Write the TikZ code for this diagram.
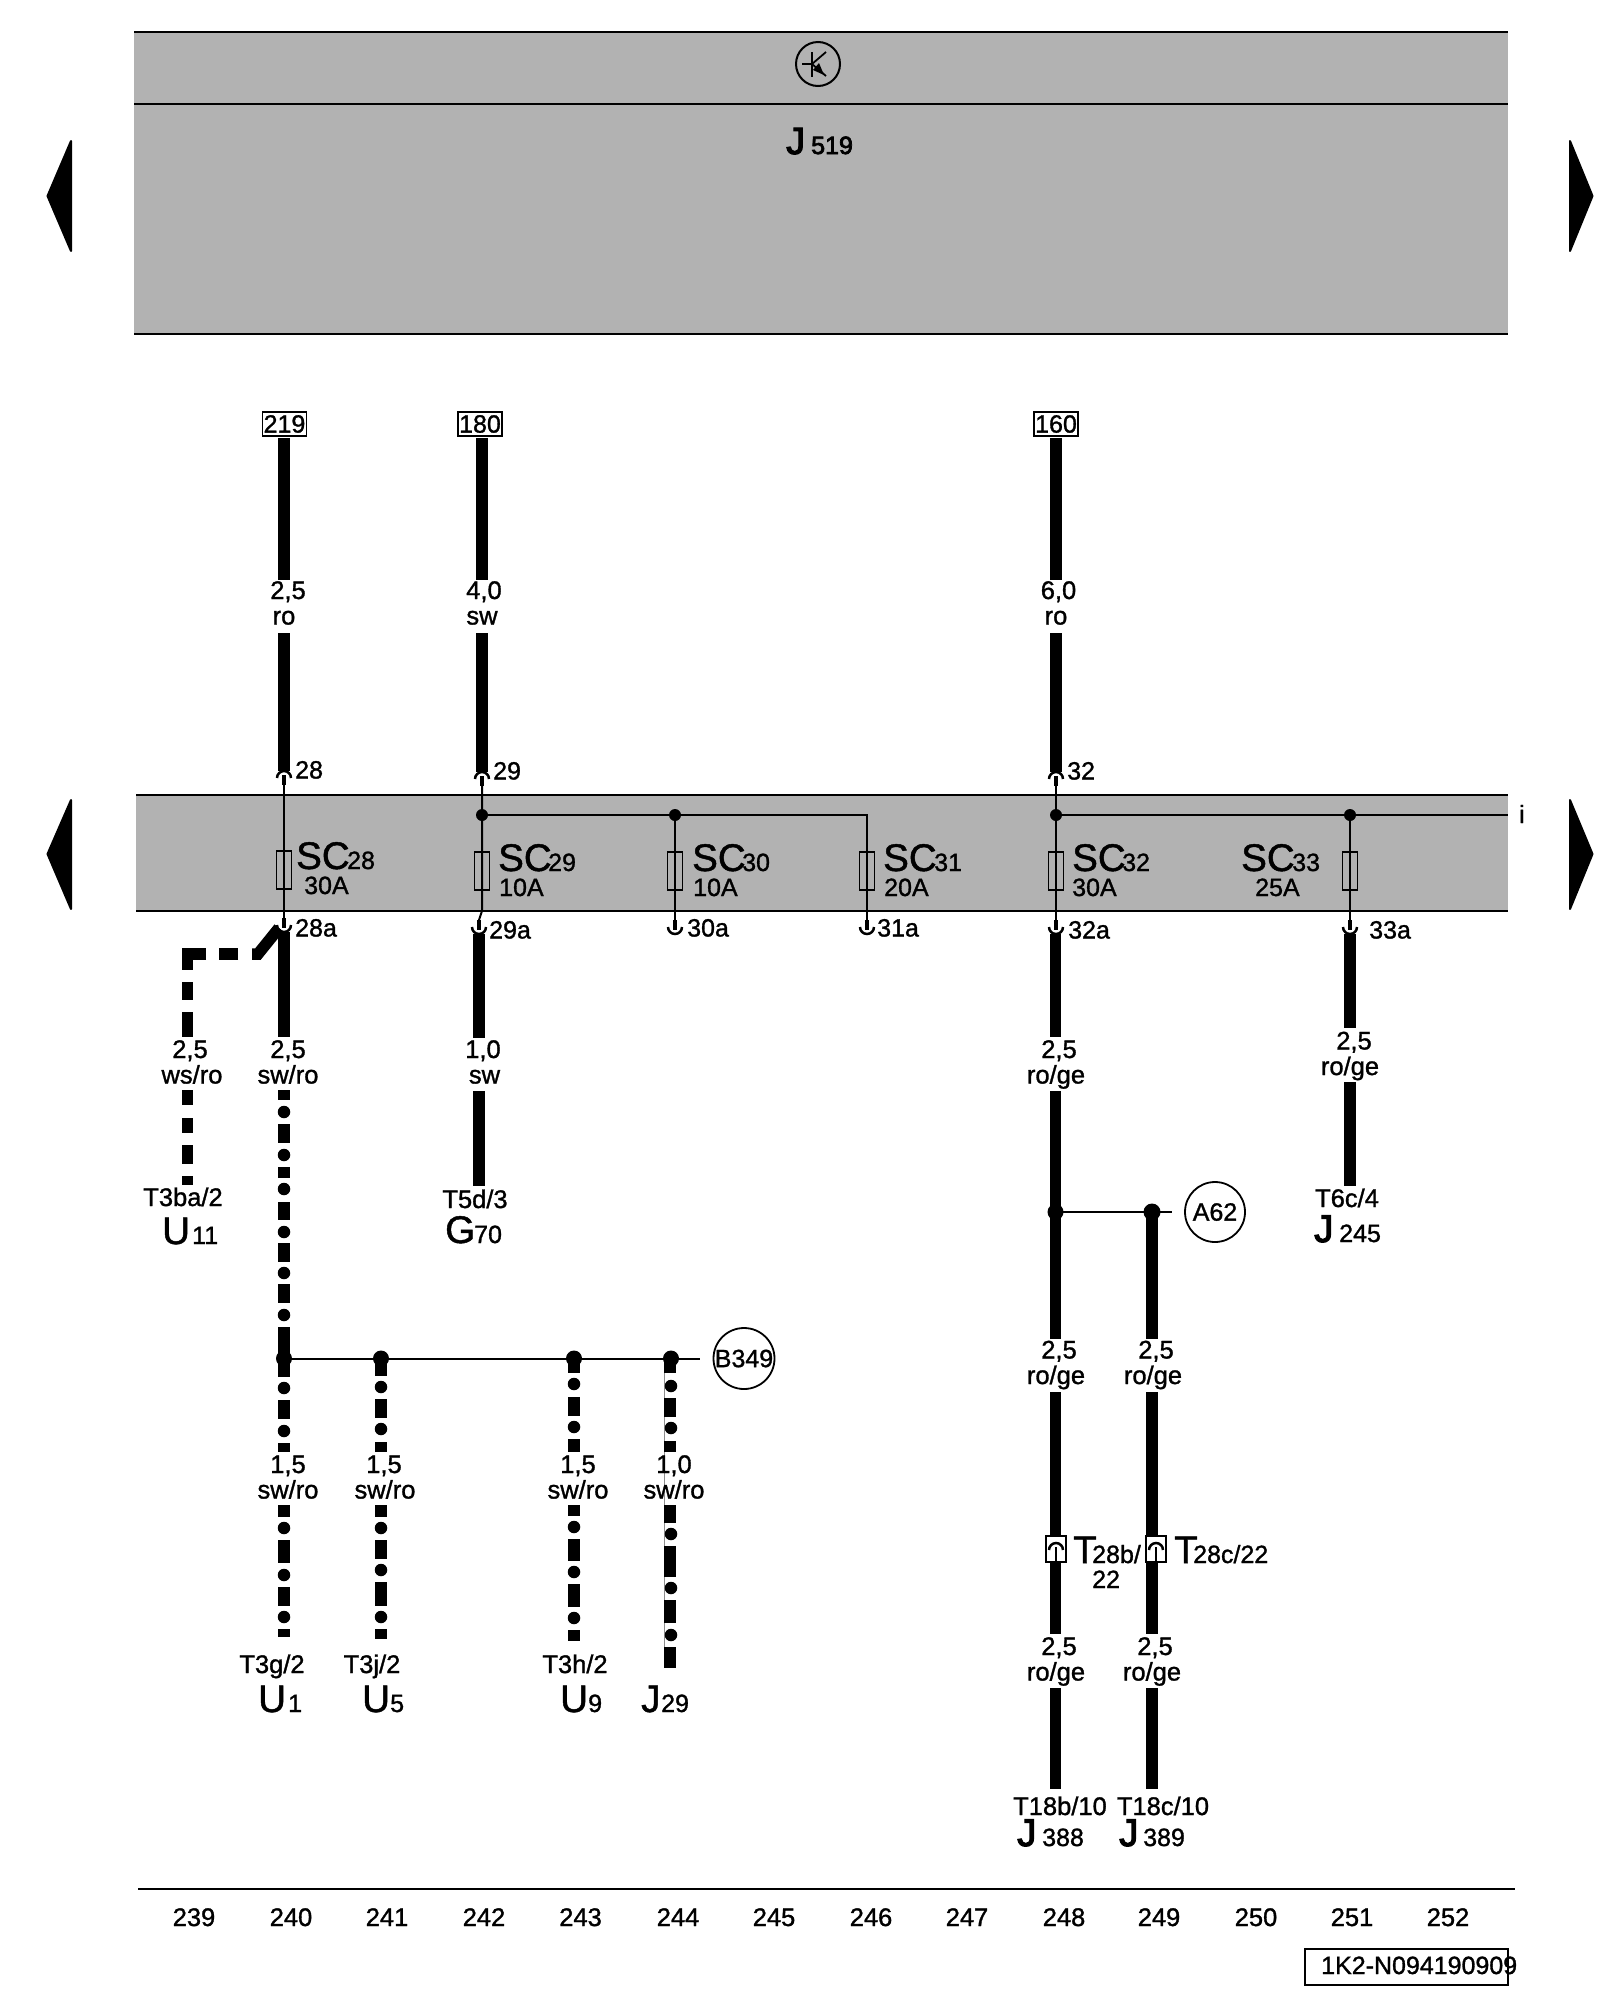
\documentclass[tikz,border=0pt]{standalone}
\usepackage{fontspec}
\setmainfont[FakeBold=1.2]{Liberation Sans}
\newfontfamily\heavy[FakeBold=3]{Liberation Sans}
\newcommand\fz[1]{\fontsize{#1}{#1}\selectfont}
\definecolor{graytone}{HTML}{B2B2B2}
\tikzset{
  x=1pt,y=-1pt,
  wire/.style={line width=11.5pt,line cap=butt,black},
  thin wire/.style={line width=2pt,black},
  rule/.style={line width=2.2pt,black},
  stub/.style={line width=4pt,black},
  pin arc/.style={line width=2.5pt,black},
  dotn/.style={circle,fill=black,inner sep=0pt,minimum size=#1},
  lab/.style={font=\fz{25.5},inner sep=0pt,anchor=base},
  labl/.style={font=\fz{25},inner sep=0pt,anchor=base west},
  big/.style={font=\fz{38.5},inner sep=0pt,anchor=base west},
  fuse/.style={draw=black,line width=1.6pt,inner sep=0pt,minimum width=15pt,minimum height=38pt},
  refbox/.style={draw=black,line width=1.8pt,fill=white,font=\fz{25},inner sep=0pt,minimum width=44pt,minimum height=24pt},
  ringn/.style={circle,draw=black,line width=1.8pt,inner sep=0pt,minimum size=60pt,font=\fz{25}},
  plug/.style={draw=black,line width=2pt,fill=white,inner sep=0pt,minimum width=20pt,minimum height=26pt},
  tri/.style={fill=black,draw=black,line width=2pt,line join=round},
}
% named wire segment: name, x, y1, y2
\newcommand\wseg[4]{\coordinate (#1a) at (#2,#3);\coordinate (#1b) at (#2,#4);\draw[wire] (#1a) -- (#1b);}
% pin pointing up: name x y(top)
\newcommand\pinup[3]{\coordinate (#1) at (#2,#3);\coordinate (#1s) at (#2,#3+14);\coordinate (#1t) at (#2,#3+4);
  \draw[pin arc] (#2-7,#3+7) arc[start angle=180,end angle=0,radius=7pt];\draw[stub] (#1t) -- (#1s);}
% pin pointing down: name x y(bottom)
\newcommand\pindown[3]{\coordinate (#1) at (#2,#3);\coordinate (#1s) at (#2,#3-14);\coordinate (#1t) at (#2,#3-4);
  \draw[pin arc] (#2-7,#3-7) arc[start angle=180,end angle=360,radius=7pt];\draw[stub] (#1s) -- (#1t);}
% two line wire label: prefix, x1, x2, y, text1, text2
\newcommand\wlab[6]{\node[lab] (#1s) at (#2,#4) {#5};\node[lab] (#1c) at (#3,#4+25.5) {#6};}
% fuse text: prefix, xSC, xsub, xamp, ybase, sub, amps
\newcommand\sclab[7]{\node[big] (#1n) at (#2,#5) {SC};\node[labl] (#1i) at (#3,#5) {#6};\node[labl] (#1a) at (#4,#5+25) {#7};}
% part designation: prefix, xletter, xindex, y, letter, index
\newcommand\partlab[6]{\node[big] (#1l) at (#2,#4) {#5};\node[labl] (#1i) at (#3,#4) {#6};}
\newcommand\partheavy[6]{\node[big] (#1l) at (#2,#4) {\heavy #5};\node[labl] (#1i) at (#3,#4) {#6};}
% dash-dot: x, dash list, dot list
\newcommand\dashes[2]{\foreach \p/\q in {#2}{\draw[wire] (#1,\p) -- (#1,\q);}}
\newcommand\dotcol[2]{\foreach \p in {#2}{\node[dotn=12.5pt] at (#1,\p) {};}}
\begin{document}
\begin{tikzpicture}
\useasboundingbox (0,0) rectangle (1600,2000);
\fill[white] (0,0) rectangle (1600,2000);

% top block
\fill[graytone] (134,32) rectangle (1508,334);
\draw[rule] (134,32) -- (1508,32);
\draw[rule] (134,104) -- (1508,104);
\draw[rule] (134,334) -- (1508,334);
\node[circle,draw=black,line width=2pt,inner sep=0pt,minimum size=44pt] (gnd) at (818,64) {};
\draw[line width=1.8pt] (812,52) -- (812,77);
\draw[line width=1.8pt] (802,64) -- (812,64);
\draw[line width=1.8pt] (812,64) -- (826,52);
\draw[line width=1.8pt] (812,64) -- (826,76);
\fill (824,75) -- (813,70) -- (819,63) -- cycle;
\node[font=\fz{38},inner sep=0pt,anchor=base west] (j519l) at (786,154) {\heavy J};
\node[font=\heavy\fz{25},inner sep=0pt,anchor=base west] (j519i) at (811,154) {519};

% side triangles
\draw[tri] (47.5,196) -- (71,141) -- (71,251) -- cycle;
\draw[tri] (47.5,854) -- (71,800) -- (71,909) -- cycle;
\draw[tri] (1592.5,196) -- (1570,141) -- (1570,251) -- cycle;
\draw[tri] (1592.5,854) -- (1570,800) -- (1570,909) -- cycle;

% fuse band
\fill[graytone] (136,795) rectangle (1508,911);
\draw[rule] (136,795) -- (1508,795);
\draw[rule] (136,911) -- (1508,911);

% references
\node[refbox] (r219) at (284.5,424) {219};
\node[refbox] (r180) at (480,424) {180};
\node[refbox] (r160) at (1056,424) {160};

% upper wires
\wseg{a1}{284}{438}{580} \wseg{a2}{284}{633}{771}
\wseg{b1}{482}{438}{580} \wseg{b2}{482}{633}{772}
\wseg{c1}{1056}{438}{580} \wseg{c2}{1056}{633}{772}
\wlab{la}{288}{284}{599}{2,5}{ro}
\wlab{lb}{484}{482}{599}{4,0}{sw}
\wlab{lc}{1058.5}{1056}{599}{6,0}{ro}

% pins
\pinup{p28}{284}{771} \pinup{p29}{482}{772} \pinup{p32}{1056}{772}
\pindown{q28}{284}{932} \pindown{q29}{479}{934} \pindown{q30}{675}{934} \pindown{q31}{867}{934} \pindown{q32}{1056}{934} \pindown{q33}{1350}{934}
\node[labl] at (295,778.5) {28};
\node[labl] at (493,779.5) {29};
\node[labl] at (1067,779.5) {32};
\node[labl] at (295,936.5) {28a};
\node[labl] at (489,938.5) {29a};
\node[labl] at (687,936.5) {30a};
\node[labl] at (877,936.5) {31a};
\node[labl] at (1068,938.5) {32a};
\node[labl] at (1369,938.5) {33a};

% fuses
\node[fuse] (f28) at (284,870) {};
\node[fuse] (f29) at (482,871) {};
\node[fuse] (f30) at (675,871) {};
\node[fuse] (f31) at (867,871) {};
\node[fuse] (f32) at (1056,871) {};
\node[fuse] (f33) at (1350,871) {};

% internal bus
\node[dotn=12pt] (d29) at (482,815) {};
\node[dotn=12pt] (d30) at (675,815) {};
\node[dotn=12pt] (d32) at (1056,815) {};
\node[dotn=12pt] (d33) at (1350,815) {};
\coordinate (bus31) at (867,815);
\coordinate (busend) at (1508,815);
\draw[thin wire] (d29.center) -- (bus31) -- (q31s);
\draw[thin wire] (d32.center) -- (busend);
\draw[thin wire] (p28s) -- (q28s);
\draw[thin wire] (p29s) -- (482,911) -- (q29s);
\draw[thin wire] (d30.center) -- (q30s);
\draw[thin wire] (p32s) -- (q32s);
\draw[thin wire] (d33.center) -- (q33s);
\node[labl] (ilab) at (1519,823) {i};

% fuse labels
\sclab{s28}{296}{347}{304}{869}{28}{30A}
\sclab{s29}{498}{548}{499}{871}{29}{10A}
\sclab{s30}{692}{742}{693}{871}{30}{10A}
\sclab{s31}{883}{934}{884}{871}{31}{20A}
\sclab{s32}{1072}{1122}{1072}{871}{32}{30A}
\sclab{s33}{1241}{1292}{1255}{871}{33}{25A}

% 28a branches
\draw[wire,line join=miter] (279,928) -- (258,954) -- (252,954);
\draw[wire] (238,954) -- (219,954);
\draw[wire,line join=miter] (206,954) -- (187.5,954) -- (187.5,970);
\dashes{187.5}{982/1000,1012/1037}
\wlab{ld}{190}{192}{1058}{2,5}{ws/ro}
\dashes{187.5}{1090/1105,1118/1133,1145/1164,1176/1185}
\node[lab] at (183,1206) {T3ba/2};
\partlab{pu11}{162}{192}{1244}{U}{11}

\wseg{e1}{284}{932}{1037}
\wlab{le}{288}{288}{1058}{2,5}{sw/ro}
\dashes{284}{1090/1100,1124/1143,1167/1178,1202/1220,1243/1262,1284/1303,1327/1377,1400/1419,1443/1452,1505/1517,1540/1563,1587/1606,1629/1637}
\dotcol{284}{1112,1155,1189,1232,1273,1315,1388,1431,1528,1575,1617}

% B349 ground bus
\node[dotn=16pt] (j1) at (284,1358.5) {};
\node[dotn=16pt] (j2) at (381,1358.5) {};
\node[dotn=16pt] (j3) at (574,1358.5) {};
\node[dotn=16pt] (j4) at (671,1358.5) {};
\node[ringn] (b349) at (744,1358.5) {B349};
\coordinate (bend) at (700,1358.5);
\draw[thin wire] (j1.center) -- (bend);
\dashes{381}{1358/1376,1399/1418,1442/1452,1505/1517,1540/1559,1582/1606,1629/1639}
\dotcol{381}{1387,1429,1528,1570,1617}
\dashes{574}{1358/1373,1397/1416,1439/1452,1505/1516,1539/1561,1584/1607,1630/1641}
\dotcol{574}{1384,1427,1527,1572,1618}
\draw[line width=0.8pt,black!45] (664.5,1373) -- (664.5,1668);
\dashes{670}{1358/1373,1398/1417,1441/1452,1505/1523,1546/1577,1600/1623,1647/1668}
\dotcol{671}{1386,1428,1534,1588,1635}
\wlab{l1}{288}{288}{1473}{1,5}{sw/ro}
\wlab{l2}{384}{385}{1473}{1,5}{sw/ro}
\wlab{l3}{578}{578}{1473}{1,5}{sw/ro}
\wlab{l4}{674}{674}{1473}{1,0}{sw/ro}
\node[lab] at (272,1673) {T3g/2};
\node[lab] at (372,1673) {T3j/2};
\node[lab] at (575,1673) {T3h/2};
\partlab{pu1}{258}{288}{1712}{U}{1}
\partlab{pu5}{362}{390}{1712}{U}{5}
\partlab{pu9}{560}{588}{1712}{U}{9}
\partlab{pj29}{641}{661}{1712}{J}{29}

% 29a
\wseg{g1}{479}{934}{1037.5}
\wlab{lg}{483}{484.5}{1058}{1,0}{sw}
\wseg{g2}{479}{1091}{1186}
\node[lab] at (475,1208) {T5d/3};
\partlab{pg70}{445}{474}{1243}{G}{70}

% 32a and A62
\wseg{h1}{1055.5}{934}{1037}
\wlab{lh}{1059}{1056}{1058}{2,5}{ro/ge}
\wseg{h2}{1055.5}{1091}{1339}
\node[dotn=16pt] (j5) at (1055.5,1212) {};
\node[dotn=17pt] (j6) at (1152,1212) {};
\node[ringn] (a62) at (1215,1212) {A62};
\coordinate (aend) at (1172,1212);
\draw[thin wire] (j5.center) -- (aend);
\wseg{i1}{1152}{1212}{1339}
\wlab{li0}{1059}{1056}{1358.5}{2,5}{ro/ge}
\wlab{li1}{1156}{1153}{1358.5}{2,5}{ro/ge}
\wseg{h3}{1055.5}{1392}{1634}
\wseg{i2}{1152}{1392}{1634}
\node[plug] (t28b) at (1056,1549) {};
\node[plug] (t28c) at (1156,1549) {};
\draw[pin arc] (1049,1550) arc[start angle=180,end angle=0,radius=7pt];
\draw[line width=2.5pt] (1056,1547) -- (1056,1561);
\draw[pin arc] (1149,1550) arc[start angle=180,end angle=0,radius=7pt];
\draw[line width=2.5pt] (1156,1547) -- (1156,1561);
\node[big] at (1073,1563) {T};
\node[labl] at (1092,1563) {28b/};
\node[labl] at (1092,1588) {22};
\node[big] at (1174,1563) {T};
\node[labl] at (1193,1563) {28c/22};
\wlab{lj0}{1059}{1056}{1655}{2,5}{ro/ge}
\wlab{lj1}{1155}{1152}{1655}{2,5}{ro/ge}
\wseg{h4}{1055.5}{1688}{1789}
\wseg{i3}{1152}{1688}{1789}
\node[lab] at (1060,1815) {T18b/10};
\node[lab] at (1163,1815) {T18c/10};
\partheavy{pj388}{1017}{1042}{1846}{J}{388}
\partheavy{pj389}{1119}{1143}{1846}{J}{389}

% 33a
\wseg{k1}{1350}{934}{1028}
\wlab{lk}{1354}{1350}{1049.5}{2,5}{ro/ge}
\wseg{k2}{1350}{1082}{1186}
\node[lab] at (1347,1207) {T6c/4};
\partheavy{pj245}{1314}{1339}{1242}{J}{245}

% footer
\draw[rule] (138,1889) -- (1515,1889);
\foreach \n/\x in {239/194,240/291,241/387,242/484,243/580.5,244/678,245/774,246/871,247/967,248/1064,249/1159,250/1256,251/1352,252/1448}
  {\node[lab] at (\x,1926) {\n};}
\node[draw=black,line width=1.8pt,inner sep=0pt,minimum width=203pt,minimum height=36pt] (idbox) at (1406.5,1967) {};
\node[font=\fz{25},inner sep=0pt,anchor=base west] (idtxt) at (1321,1974) {1K2-N094190909};
\end{tikzpicture}
\end{document}
